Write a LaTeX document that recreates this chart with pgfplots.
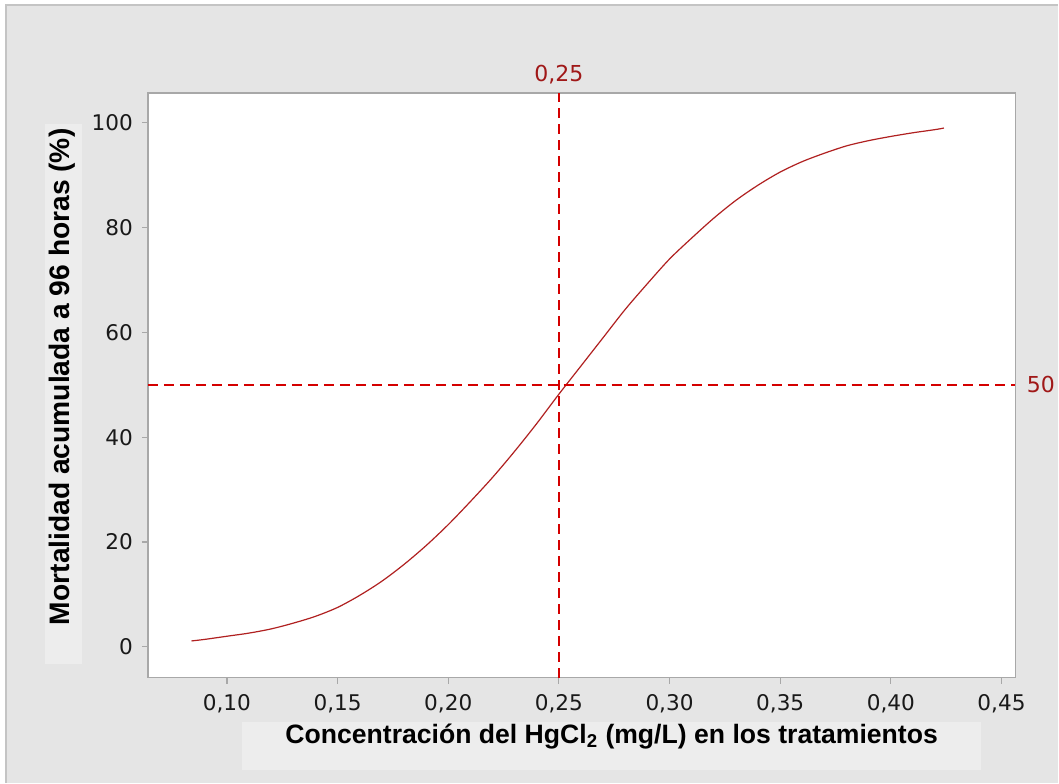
\documentclass[border=0pt]{standalone}
\usepackage{pgfplots}
\pgfplotsset{compat=1.18}
\usepackage{fontspec}
\setmainfont{Liberation Sans}
\newfontfamily\tickfont{DejaVu Sans}
\definecolor{bg}{HTML}{E5E5E5}
\definecolor{bordercol}{HTML}{C4C4C4}
\definecolor{lblbg}{HTML}{EDEDED}
\definecolor{axcol}{HTML}{A8A8A8}
\definecolor{refred}{HTML}{D40000}
\definecolor{txtred}{HTML}{A01818}
\definecolor{curvecol}{HTML}{B02020}
\begin{document}
\begin{tikzpicture}
\begin{scope}[x=0.5pt,y=0.5pt]
\fill[white] (0,0) rectangle (1059,783);
\fill[bg] (6,0) rectangle (1059,778);
\draw[bordercol, line width=0.6pt] (6,0) -- (6,778) -- (1059,778);
\fill[lblbg] (45,783-664) rectangle (82,783-124);
\fill[lblbg] (242,783-770) rectangle (982,783-722);
\node[rotate=90, font=\bfseries\fontsize{14.1}{16}\selectfont] at (62,783-377) {Mortalidad acumulada a 96 horas (\%)};
\node[font=\bfseries\fontsize{13.3}{15}\selectfont] at (612,783-737) {Concentración del HgCl\textsubscript{2} (mg/L) en los tratamientos};
\end{scope}
\begin{axis}[
  at={(74pt,52.5pt)}, anchor=south west,
  scale only axis, width=434pt, height=292.5pt,
  xmin=0.0643, xmax=0.4563, ymin=-5.9, ymax=105.7,
  axis background/.style={fill=white},
  axis line style={axcol, line width=0.6pt},
  xtick={0.10,0.15,0.20,0.25,0.30,0.35,0.40,0.45},
  xticklabels={{0,10},{0,15},{0,20},{0,25},{0,30},{0,35},{0,40},{0,45}},
  ytick={0,20,40,60,80,100},
  tick align=outside, tick pos=left,
  major tick length=3pt,
  tick style={axcol, line width=0.6pt},
  ticklabel style={font=\tickfont\fontsize{10.8}{13}\selectfont, text=black!90},
  /pgf/number format/assume math mode=true,
  xticklabel style={yshift=-2pt},
  yticklabel style={xshift=-1pt},
  clip=false,
]
\addplot[curvecol, line width=0.6pt, smooth] coordinates {
(0.084,1.1) (0.09,1.4) (0.10,2.0) (0.11,2.6) (0.12,3.4) (0.13,4.5) (0.14,5.8)
(0.15,7.5) (0.16,9.8) (0.17,12.5) (0.18,15.7) (0.19,19.3) (0.20,23.3)
(0.21,27.7) (0.22,32.3) (0.23,37.3) (0.24,42.6) (0.25,48.2) (0.26,53.6)
(0.27,59.0) (0.28,64.4) (0.29,69.3) (0.30,74.0) (0.31,78.0) (0.32,81.8)
(0.33,85.2) (0.34,88.1) (0.35,90.6) (0.36,92.6) (0.37,94.2) (0.38,95.6)
(0.39,96.6) (0.40,97.4) (0.41,98.1) (0.42,98.7) (0.424,99.0)
};
\draw[refred, line width=1pt, dash pattern=on 5pt off 3pt] (axis cs:0.25,-5.9) -- (axis cs:0.25,105.7);
\draw[refred, line width=1pt, dash pattern=on 5pt off 3pt] (axis cs:0.0643,50) -- (axis cs:0.4563,50);
\node[anchor=base, text=txtred, font=\tickfont\fontsize{11}{13}\selectfont] at ([yshift=5.5pt]axis cs:0.25,105.7) {0,25};
\node[anchor=west, text=txtred, font=\tickfont\fontsize{11}{13}\selectfont, inner sep=0pt] at ([xshift=5.5pt]axis cs:0.4563,50) {50};
\end{axis}
\end{tikzpicture}
\end{document}
